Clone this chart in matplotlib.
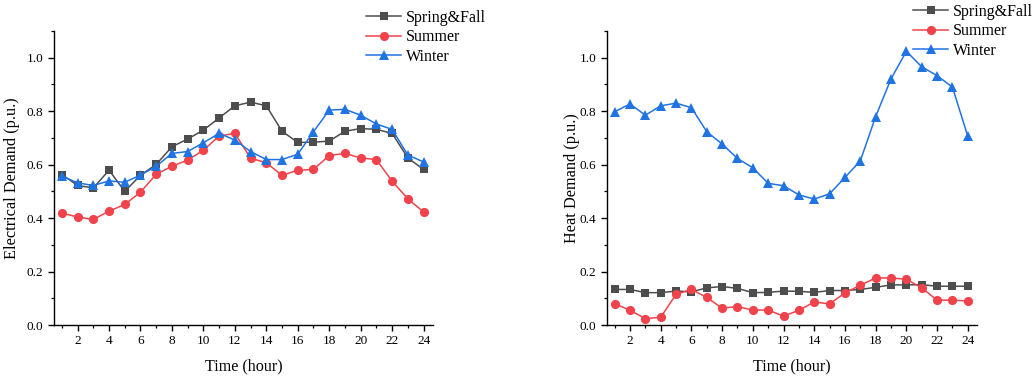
import matplotlib
matplotlib.use("Agg")
import matplotlib.pyplot as plt
from matplotlib.ticker import MultipleLocator

plt.rcParams['font.family'] = ['Liberation Serif', 'DejaVu Serif']

hours = list(range(1, 25))

elec_spring_fall = [0.563, 0.522, 0.513, 0.579, 0.500, 0.560, 0.601, 0.667, 0.696, 0.729,
                    0.775, 0.820, 0.834, 0.820, 0.725, 0.683, 0.684, 0.688, 0.725, 0.735,
                    0.732, 0.717, 0.625, 0.582]
elec_summer = [0.419, 0.404, 0.395, 0.426, 0.451, 0.497, 0.564, 0.594, 0.617, 0.654,
               0.707, 0.717, 0.624, 0.607, 0.560, 0.579, 0.582, 0.634, 0.642, 0.625,
               0.619, 0.538, 0.472, 0.423]
elec_winter = [0.557, 0.532, 0.522, 0.539, 0.534, 0.561, 0.594, 0.642, 0.649, 0.682,
               0.717, 0.692, 0.649, 0.619, 0.619, 0.639, 0.723, 0.804, 0.807, 0.785,
               0.752, 0.732, 0.636, 0.610]

heat_spring_fall = [0.133, 0.133, 0.121, 0.121, 0.127, 0.124, 0.139, 0.144, 0.137, 0.121,
                    0.122, 0.127, 0.126, 0.122, 0.129, 0.129, 0.133, 0.141, 0.150, 0.150,
                    0.151, 0.145, 0.145, 0.145]
heat_summer = [0.080, 0.055, 0.024, 0.029, 0.115, 0.133, 0.103, 0.063, 0.069, 0.056,
               0.056, 0.033, 0.055, 0.086, 0.079, 0.120, 0.149, 0.176, 0.176, 0.171,
               0.139, 0.093, 0.093, 0.090]
heat_winter = [0.798, 0.827, 0.785, 0.820, 0.830, 0.813, 0.723, 0.677, 0.623, 0.588,
               0.530, 0.521, 0.487, 0.471, 0.491, 0.552, 0.614, 0.780, 0.921, 1.024,
               0.966, 0.933, 0.890, 0.706]

series_labels = ['Spring&Fall', 'Summer', 'Winter']
colors = ['#4d4d4d', '#f0434b', '#2073e3']
markers = ['s', 'o', '^']
marker_sizes = [6.2, 6.6, 7.2]

fig = plt.figure(figsize=(10.36, 3.78), dpi=100)
ax1 = fig.add_axes([54/1036, 53/378, (433-54)/1036, (325-31)/378])
ax2 = fig.add_axes([607/1036, 53/378, (977-607)/1036, (325-31)/378])

def draw(ax, data, ylabel, ylabelpad, legend_xy):
    handles = []
    for vals, lab, c, m, ms in zip(data, series_labels, colors, markers, marker_sizes):
        h, = ax.plot(hours, vals, color=c, marker=m, markersize=ms, linewidth=1.1,
                     markeredgewidth=0, label=lab)
        handles.append(h)
    ax.set_xlim(0.5, 24.6)
    ax.set_ylim(0, 1.1)
    ax.xaxis.set_minor_locator(MultipleLocator(1))
    ax.yaxis.set_minor_locator(MultipleLocator(0.1))
    ax.set_xticks(list(range(2, 25, 2)))
    ax.set_xticklabels([str(v) for v in range(2, 25, 2)])
    ax.set_yticks([0.0, 0.2, 0.4, 0.6, 0.8, 1.0])
    ax.set_yticklabels(['0.0', '0.2', '0.4', '0.6', '0.8', '1.0'])
    for s in ['top', 'right']:
        ax.spines[s].set_visible(False)
    for s in ['left', 'bottom']:
        ax.spines[s].set_linewidth(1.0)
    ax.tick_params(which='major', direction='out', length=4.5, width=1.0, labelsize=9.5, pad=3)
    ax.tick_params(which='minor', direction='out', length=2.5, width=0.9)
    ax.set_xlabel('Time (hour)', fontsize=11.6, labelpad=8)
    ax.set_ylabel(ylabel, fontsize=11.7, labelpad=ylabelpad)
    fig.legend(handles=handles, loc='upper left',
               bbox_to_anchor=legend_xy, frameon=False, fontsize=11.5,
               handlelength=2.2, handletextpad=0.3, labelspacing=0.21,
               borderpad=0, borderaxespad=0)

draw(ax1, [elec_spring_fall, elec_summer, elec_winter], 'Electrical Demand (p.u.)', 5,
     (366/1036, 1 - 10/378))
draw(ax2, [heat_spring_fall, heat_summer, heat_winter], 'Heat Demand (p.u.)', 0,
     (913/1036, 1 - 4/378))

fig.savefig('out.png', dpi=100)
